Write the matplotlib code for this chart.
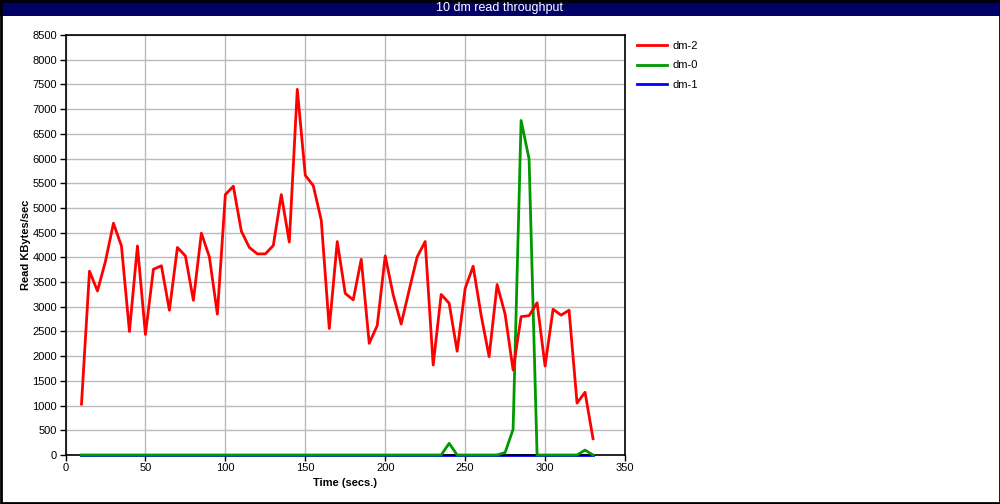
import numpy as np
import matplotlib.pyplot as plt

# time axis: samples every 5 seconds
t = np.arange(10, 335, 5)

dm2 = [1030, 3720, 3320, 3920, 4690, 4230, 2500, 4230, 2440, 3760,
       3830, 2930, 4200, 4030, 3130, 4490, 4010, 2850, 5270, 5440,
       4530, 4200, 4070, 4070, 4240, 5270, 4310, 7400, 5660, 5450,
       4750, 2560, 4320, 3270, 3140, 3960, 2260, 2620, 4030, 3240,
       2650, 3340, 4010, 4320, 1820, 3250, 3070, 2100, 3370, 3820,
       2830, 1990, 3450, 2850, 1720, 2800, 2820, 3080, 1800, 2950,
       2830, 2930, 1050, 1270, 330]
dm0 = [0] * len(t)
dm1 = [0] * len(t)
for sec, val in [(240, 236), (275, 50), (280, 520), (285, 6770), (290, 5990), (325, 100)]:
    dm0[list(t).index(sec)] = val

series = [("dm-2", dm2, "#ff0000"), ("dm-0", dm0, "#009900"), ("dm-1", dm1, "#0000ff")]

plt.rcParams['font.family'] = ['Liberation Sans', 'DejaVu Sans']

fig = plt.figure(figsize=(10, 5.04), dpi=100)
ax = fig.add_axes([0.0655, 49 / 504, 0.5595, 420 / 504])

z = {"dm-2": 4, "dm-0": 3, "dm-1": 2}
for name, vals, col in series:
    ax.plot(t, vals, color=col, lw=2, label=name, zorder=z[name], clip_on=False)

ax.set_xlim(0, 350)
ax.set_ylim(0, 8500)
ax.set_xticks(np.arange(0, 351, 50))
ax.set_yticks(np.arange(0, 8501, 500))
ax.grid(True, color="#bbbbbb", lw=1)
ax.set_axisbelow(True)
ax.tick_params(direction="out", length=4, width=1, labelsize=8, colors="black", pad=2)
for s in ax.spines.values():
    s.set_color("black")
    s.set_linewidth(1.2)
ax.set_xlabel("Time (secs.)", fontsize=8, fontweight="bold", labelpad=3)
ax.set_ylabel("Read KBytes/sec", fontsize=8, fontweight="bold", labelpad=1)

ax.legend(loc="upper left", bbox_to_anchor=(1.008, 1.005), frameon=False, fontsize=8,
          handlelength=2.7, handletextpad=0.5, labelspacing=0.88, borderaxespad=0.3)

# title bar and frame
fig.patches.append(plt.Rectangle((0, 1 - 16 / 504), 1, 16 / 504, transform=fig.transFigure,
                                 facecolor="#000066", edgecolor="none"))
fig.patches.append(plt.Rectangle((0.0005, 0.001), 0.999, 0.998, transform=fig.transFigure,
                                 facecolor="none", edgecolor="black", lw=2))
fig.text(0.5, 1 - 8 / 504, "10 dm read throughput", color="white", fontsize=9,
         ha="center", va="center", fontstretch="condensed")

fig.savefig("out.png", dpi=100)
